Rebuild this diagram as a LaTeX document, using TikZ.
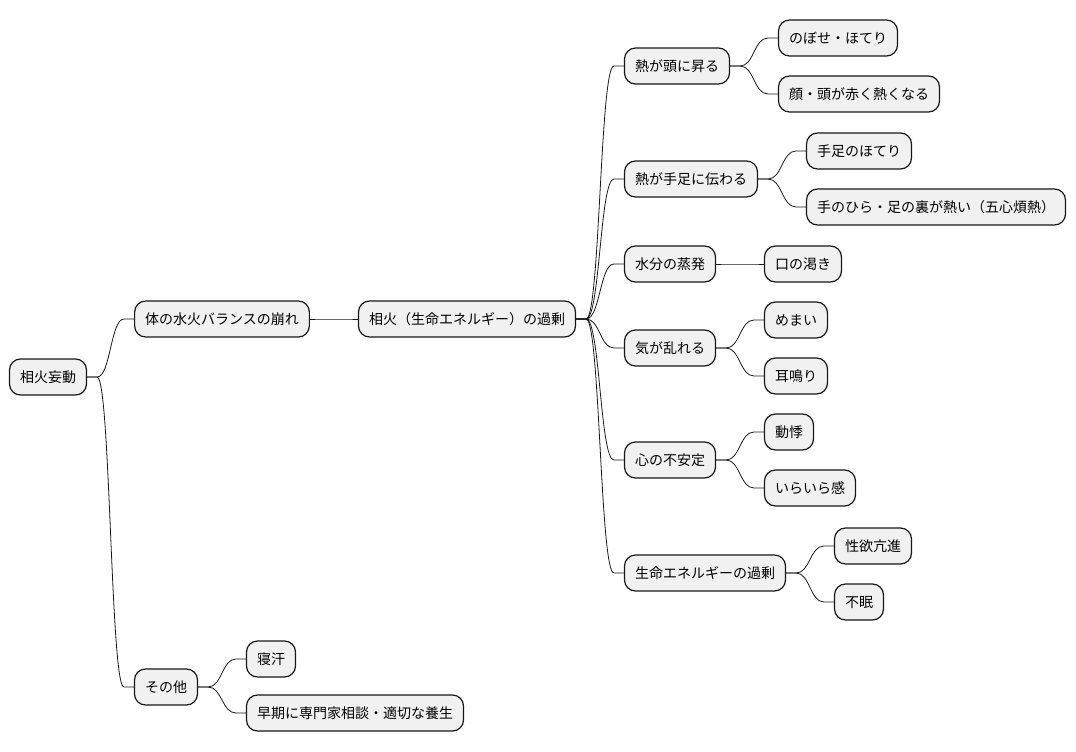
\documentclass[tikz,border=0pt]{standalone}
\usepackage{fontspec}
\setmainfont{Noto Sans CJK JP}
\usetikzlibrary{calc}
\definecolor{nodefill}{HTML}{F1F1F1}
\definecolor{nodeline}{HTML}{181818}
\tikzset{
  mm/.style={draw=nodeline, fill=nodefill, line width=1.2pt, rounded corners=11pt,
    minimum height=36pt, inner xsep=10.5pt, inner ysep=0pt, anchor=center,
    font=\fontsize{14}{16}\selectfont, text=black},
  conn/.style={draw=nodeline, line width=0.8pt,
    to path={let \p1=(\tikztostart), \p2=(\tikztotarget), \n1={(\x1+\x2)/2} in
      -- (\x1+10pt,\y1) .. controls (\n1,\y1) and (\n1,\y2) .. (\x2-10pt,\y2) -- (\x2,\y2)}}
}
\begin{document}
\begin{tikzpicture}[x=1pt,y=-1pt]
\useasboundingbox (0,0) rectangle (1076,752);
\node[mm] (root) at (48,377) {相火妄動};
\node[mm] (bal) at (222,319) {体の水火バランスの崩れ};
\node[mm] (oth) at (166,687) {その他};
\node[mm] (ne) at (271,659) {寝汗};
\node[mm] (soki) at (355,713) {早期に専門家相談・適切な養生};
\node[mm] (so) at (467,319) {相火（生命エネルギー）の過剰};
\node[mm] (a) at (677,66) {熱が頭に昇る};
\node[mm] (a1) at (838,38) {のぼせ・ほてり};
\node[mm] (a2) at (859,94) {顔・頭が赤く熱くなる};
\node[mm] (b) at (691,179) {熱が手足に伝わる};
\node[mm] (b1) at (859,151) {手足のほてり};
\node[mm] (b2) at (936,207) {手のひら・足の裏が熱い（五心煩熱）};
\node[mm] (c) at (670,264) {水分の蒸発};
\node[mm] (c1) at (803,264) {口の渇き};
\node[mm] (d) at (670,348) {気が乱れる};
\node[mm] (d1) at (796,320) {めまい};
\node[mm] (d2) at (796,376) {耳鳴り};
\node[mm] (e) at (670,460) {心の不安定};
\node[mm] (e1) at (789,432) {動悸};
\node[mm] (e2) at (810,488) {いらいら感};
\node[mm] (f) at (705,573) {生命エネルギーの過剰};
\node[mm] (f1) at (873,546) {性欲亢進};
\node[mm] (f2) at (859,602) {不眠};
\foreach \p/\c in {root/bal, root/oth, oth/ne, oth/soki, bal/so,
  so/a, so/b, so/c, so/d, so/e, so/f,
  a/a1, a/a2, b/b1, b/b2, c/c1, d/d1, d/d2, e/e1, e/e2, f/f1, f/f2}
  \draw[conn] (\p.east) to (\c.west);
\end{tikzpicture}
\end{document}
